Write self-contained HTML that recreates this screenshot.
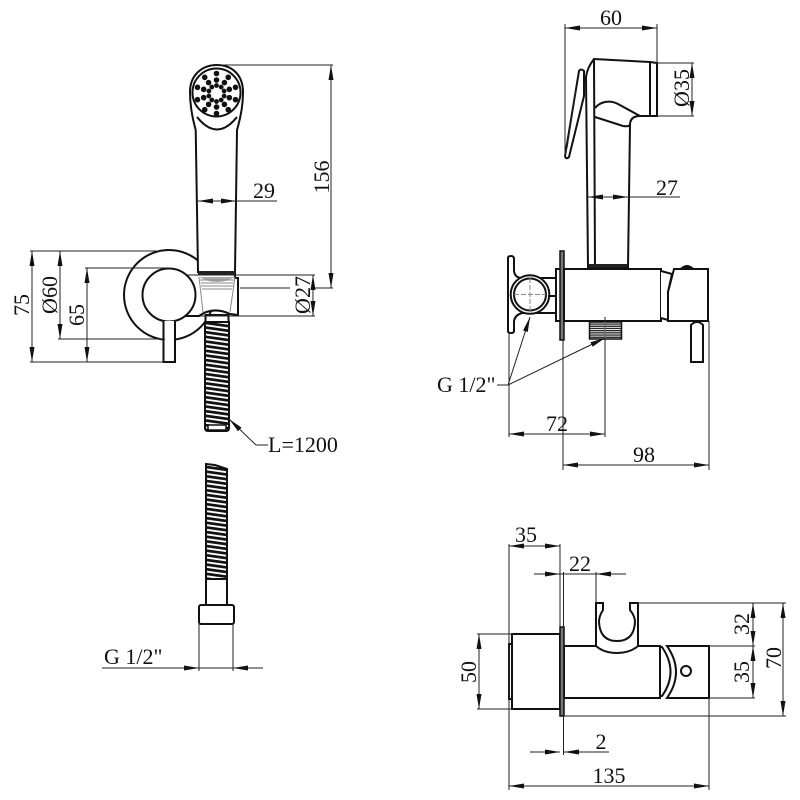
<!DOCTYPE html>
<html>
<head>
<meta charset="utf-8">
<style>
html,body{margin:0;padding:0;background:#fff;width:800px;height:800px;overflow:hidden}
svg{display:block}
text{font-family:"Liberation Serif",serif;font-size:22px;fill:#111}
.o{fill:#fff;stroke:#111;stroke-width:2}
.n{fill:none;stroke:#111;stroke-width:2}
.d{fill:none;stroke:#222;stroke-width:1;marker-start:url(#a);marker-end:url(#a)}
.e{fill:none;stroke:#222;stroke-width:1}
.i{fill:none;stroke:#222;stroke-width:1;marker-end:url(#a)}
.g{fill:none;stroke:#888;stroke-width:1}
</style>
</head>
<body>
<svg width="800" height="800" viewBox="0 0 800 800" xmlns="http://www.w3.org/2000/svg">
<defs>
<marker id="a" markerUnits="userSpaceOnUse" markerWidth="15" markerHeight="6" refX="15" refY="3" orient="auto-start-reverse"><path d="M0 .5L15 3L0 5.5Z" fill="#111"/></marker>
<pattern id="h" width="30" height="4.6" patternUnits="userSpaceOnUse" patternTransform="rotate(8)"><rect width="30" height="4.6" fill="#fff"/><rect width="30" height="2.7" fill="#111"/></pattern>
<pattern id="t" width="40" height="2.2" patternUnits="userSpaceOnUse"><rect width="40" height="2.2" fill="#fff"/><rect width="40" height="1.3" fill="#222"/></pattern>
<g id="s"><circle cx="216.5" cy="73.5" r="2.8" fill="#111"/><circle cx="216.5" cy="80" r="2.8" fill="#111"/><circle cx="216.5" cy="85.5" r="2.4" fill="#111"/></g>
</defs>

<!-- LEFT VIEW -->
<circle cx="169" cy="295" r="45" class="o"/>
<circle cx="169" cy="295" r="26.5" class="o"/>
<path d="M163.5 321V362H175V321" class="o"/>
<path d="M198 272L195.700 130Q190 110 190 92C190 75 202 65 217 65C232 65 243 75 243 92Q243 110 237 130L235 272Z" class="o"/>
<circle cx="216.500" cy="92.500" r="24" class="o"/>
<path d="M197 117Q217 142 237 117" class="n"/>
<g><use href="#s"/><use href="#s" transform="rotate(36 216.5 93.5)"/><use href="#s" transform="rotate(72 216.5 93.5)"/><use href="#s" transform="rotate(108 216.5 93.5)"/><use href="#s" transform="rotate(144 216.5 93.5)"/><use href="#s" transform="rotate(180 216.5 93.5)"/><use href="#s" transform="rotate(216 216.5 93.5)"/><use href="#s" transform="rotate(252 216.5 93.5)"/><use href="#s" transform="rotate(288 216.5 93.5)"/><use href="#s" transform="rotate(324 216.5 93.5)"/></g>
<!-- holder -->
<path d="M198 275H235V278H238V315H230Q213 306 200 316L198 316Z" fill="#fff"/>
<path d="M185 316H199Q213 306 230 314L238 315V278H235V272" class="n"/>
<path d="M187 275H198" class="e"/>
<rect x="198" y="271" width="37" height="3.500" fill="#222"/>
<path d="M199 277Q217 287 235 277Z" fill="#aaa"/>
<path d="M199 277L203 312M235 277L230 312" class="g"/>
<path d="M200 280H234M201 283H233M201 286H233M202 289H232" class="g"/>
<rect x="205.500" y="315" width="23" height="7" class="o"/>
<!-- upper hose -->
<path d="M205 322H229V428Q229 431 226 431H208Q205 431 205 428Z" fill="url(#h)" stroke="#111" stroke-width="2"/>
<rect x="208" y="425" width="18" height="5" fill="#fff" stroke="#111" stroke-width="1.500"/>
<!-- lower hose -->
<path d="M206 464L215 465L227 469V579H206Z" fill="url(#h)" stroke="#111" stroke-width="2"/>
<rect x="206" y="579" width="21" height="26" class="o"/>
<rect x="199" y="605" width="35" height="19" rx="2" class="o"/>

<!-- left dims -->
<path d="M30 251H160M30 362H163M58 339H165M85 268H170" class="e"/>
<path d="M32 251V362" class="d"/>
<path d="M60 251V339" class="d"/>
<path d="M87 268V362" class="d"/>
<path d="M217 65H333M313 288H333M187 275H315M200 316H315M240 288H290" class="e"/>
<path d="M331 65V288" class="d"/>
<path d="M313 275V316" class="d"/>
<path d="M198 201H236" class="d"/>
<path d="M236 201H277" class="e"/>
<path d="M229 419L256 445H268" class="e" style="marker-start:url(#a)"/>
<text transform="translate(29 305) rotate(-90)" text-anchor="middle">75</text>
<text transform="translate(57 295) rotate(-90)" text-anchor="middle">Ø60</text>
<text transform="translate(84 315) rotate(-90)" text-anchor="middle">65</text>
<text transform="translate(310 295) rotate(-90)" text-anchor="middle">Ø27</text>
<text transform="translate(329 177) rotate(-90)" text-anchor="middle">156</text>
<text x="264" y="198" text-anchor="middle">29</text>
<text x="268" y="452">L=1200</text>
<path d="M199 624V671M233 624V671" class="e"/>
<path d="M102 668H199" class="i"/>
<path d="M263 668H233" class="i"/>
<path d="M199 668H233" class="e"/>
<text x="104" y="664">G 1/2"</text>

<!-- TOP RIGHT: side view -->
<path d="M586 77Q587 68 594 59L650 62L657 63V116H640Q630 116 630 125L628 267H588Z" class="o"/>
<path d="M650 62V116M594 60L595 267M588 267H628" class="n"/>
<rect x="589" y="264" width="38" height="3.500" fill="#222"/>
<path d="M595 108C601 101 610 100 618 104L640 116M595 117L623 126Q630 127 630 124" class="n"/>
<path d="M579 71Q581 68 584 71L584 96L569 157Q566 160 565 156Z" class="o"/>
<path d="M576 90L567 148" class="e"/>
<!-- holder -->
<path d="M508 258Q508 256 511 256Q514 256 514 259V271Q515 278 522 278H556V313H522Q515 315 514 321V331Q514 333 511 333Q508 333 508 331Z" class="o"/>
<circle cx="530" cy="294.500" r="19.300" class="o"/>
<circle cx="530" cy="294.500" r="16" class="o"/>
<path d="M548 296H556" class="n"/>
<path d="M530 278V311M514 294.500H546" class="g" stroke-dasharray="5 2"/>
<rect x="556" y="269" width="5" height="52" class="o"/>
<rect x="560" y="251" width="4" height="89" fill="#777" stroke="#111" stroke-width="1.500"/>
<rect x="564" y="269" width="97" height="52" class="o"/>
<!-- handle -->
<path d="M661 271L672 274L668 292V320L661 318" class="o"/>
<path d="M674 269H708V321H668V292Z" class="o"/>
<path d="M682 268Q687 264 692 268Z" class="o"/>
<path d="M691 362V325Q697 319 703 325V362Z" class="o"/>
<!-- thread -->
<rect x="589.500" y="322" width="32" height="17" fill="url(#t)" stroke="#111" stroke-width="1.500"/>
<path d="M605 322V339" stroke="#fff" stroke-width="1.500"/>
<!-- dims -->
<path d="M565 24V157M657 24V63" class="e"/>
<path d="M565 28H657" class="d"/>
<path d="M657 63H694M657 116H694" class="e"/>
<path d="M692 63V116" class="d"/>
<path d="M588 197H628" class="d"/>
<path d="M628 197H680" class="e"/>
<path d="M509 333V437M605 317V437M563 340V470M709 321V470" class="e"/>
<path d="M509 434H605" class="d"/>
<path d="M563 465H709" class="d"/>
<path d="M497 385H508" class="e"/>
<path d="M508 385L530 317" class="i"/>
<path d="M508 385L605 338" class="i"/>
<text x="611" y="25" text-anchor="middle">60</text>
<text transform="translate(689 88) rotate(-90)" text-anchor="middle">Ø35</text>
<text x="667" y="195" text-anchor="middle">27</text>
<text x="557" y="431" text-anchor="middle">72</text>
<text x="644" y="462" text-anchor="middle">98</text>
<text x="437" y="392">G 1/2"</text>

<!-- BOTTOM RIGHT -->
<rect x="509" y="644" width="3" height="55" class="o"/>
<rect x="512" y="634" width="48" height="75" class="o"/>
<rect x="564" y="646" width="96" height="52" class="o"/>
<rect x="560" y="627" width="4" height="89" fill="#777" stroke="#111" stroke-width="1.500"/>
<path d="M660 647H662Q679 672 662 696H660" class="n"/>
<path d="M667 646H709V698H667Q685 672 667 646Z" class="o"/>
<circle cx="686" cy="671" r="5" class="n"/>
<path d="M596 646V603H603V610Q599 616 599 622Q600 641 617 641Q634 641 635 622Q635 616 630 610V603H638V646Q630 653 617 653Q604 653 596 646Z" class="o"/>
<path d="M638 646H660" class="n"/>
<!-- dims -->
<path d="M509 544V790M560 544V627" class="e"/>
<path d="M509 546H560" class="d"/>
<path d="M534 574H560" class="i"/>
<path d="M626 574H596" class="i"/>
<path d="M560 574H596" class="e"/>
<path d="M563.500 572V755M596 572V603" class="e"/>
<path d="M530 752H560" class="i"/>
<path d="M609 752H564" class="i"/>
<path d="M509 786H709" class="d"/>
<path d="M709 698V790" class="e"/>
<path d="M477 634H512M477 709H512" class="e"/>
<path d="M479 634V709" class="d"/>
<path d="M638 603H786M564 716H786M709 646H755M709 698H755" class="e"/>
<path d="M783 603V716" class="d"/>
<path d="M753 603V646" class="d"/>
<path d="M753 646V698" class="d"/>
<text x="526" y="542" text-anchor="middle">35</text>
<text x="580" y="571" text-anchor="middle">22</text>
<text x="601" y="749" text-anchor="middle">2</text>
<text x="609" y="783" text-anchor="middle">135</text>
<text transform="translate(476 672) rotate(-90)" text-anchor="middle">50</text>
<text transform="translate(749 624) rotate(-90)" text-anchor="middle">32</text>
<text transform="translate(749 672) rotate(-90)" text-anchor="middle">35</text>
<text transform="translate(781 658) rotate(-90)" text-anchor="middle">70</text>
</svg>
</body>
</html>
